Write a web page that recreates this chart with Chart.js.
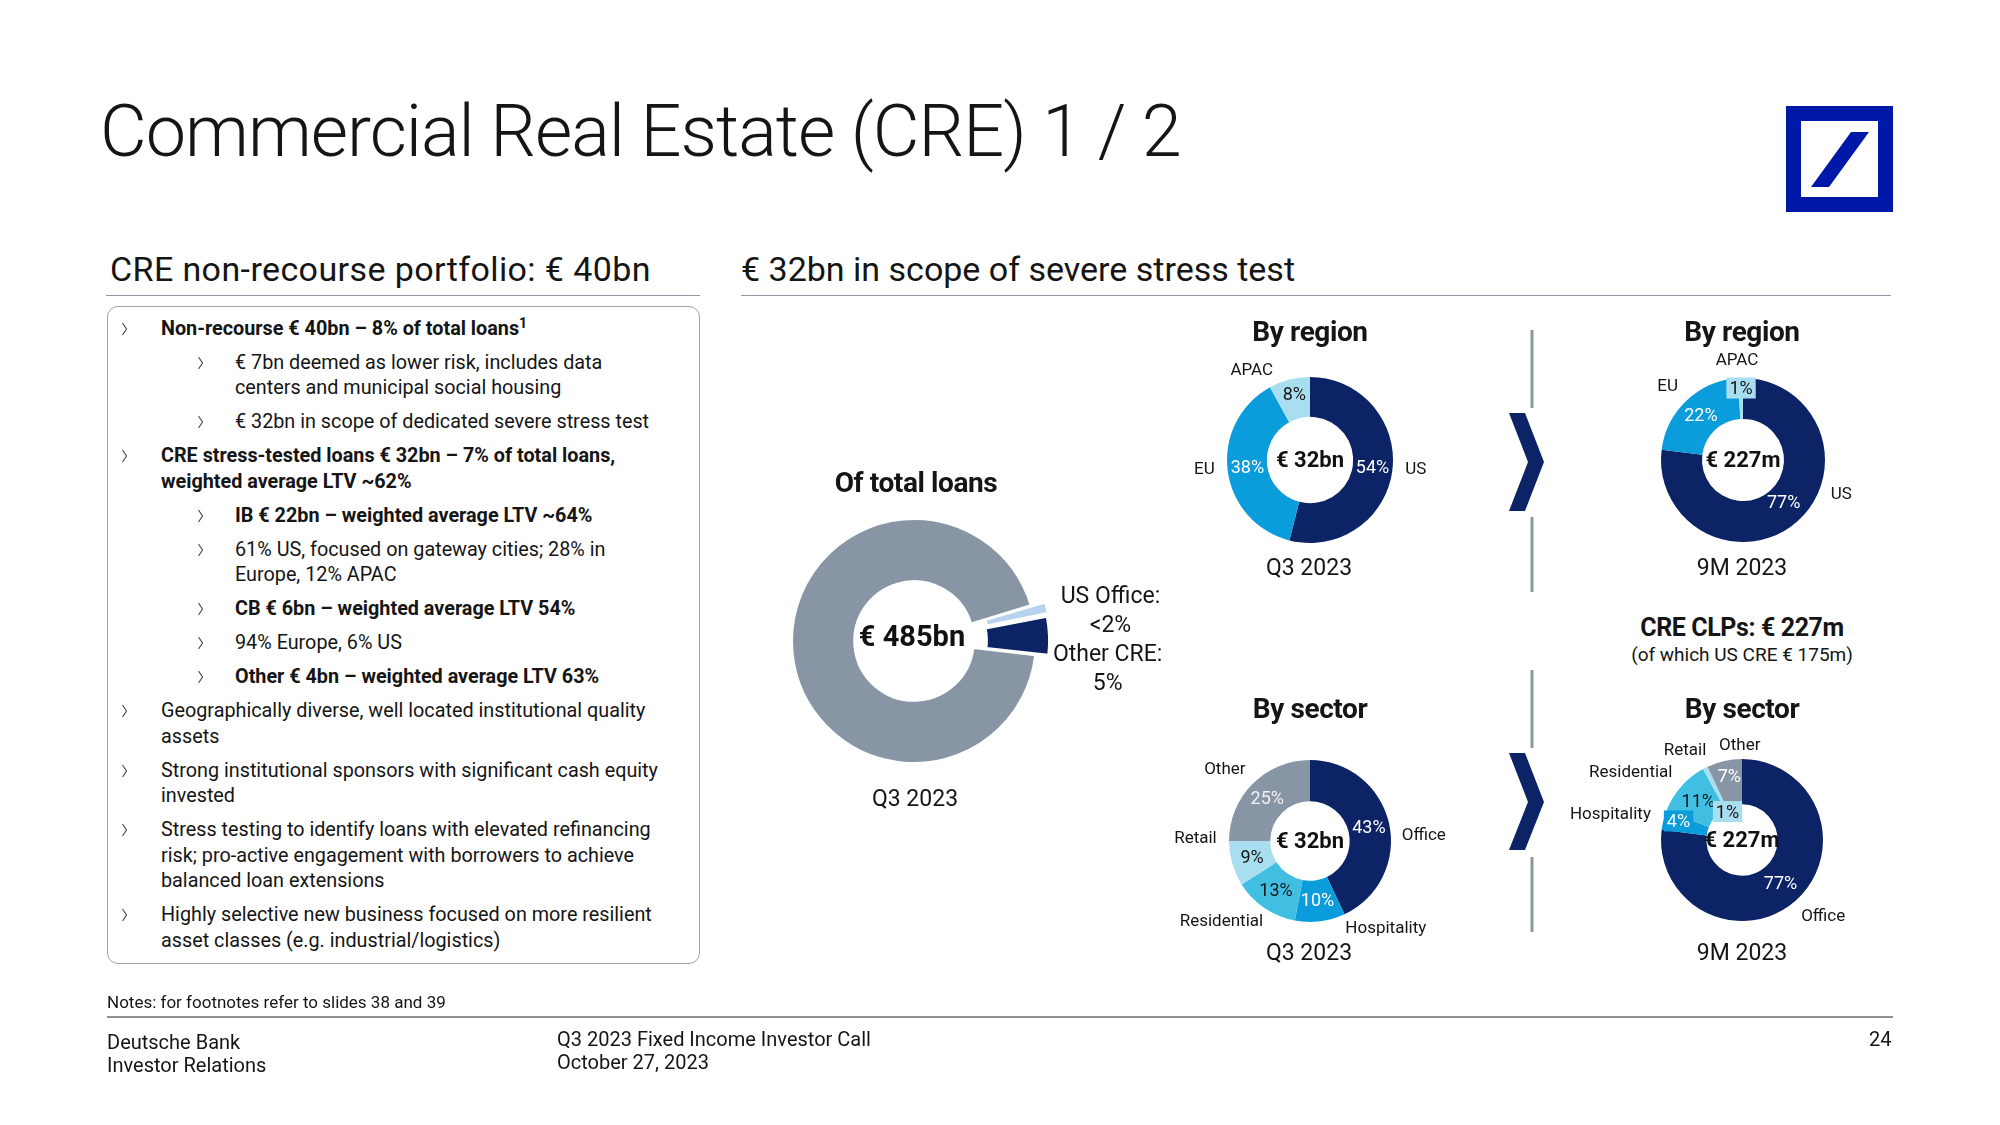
<!DOCTYPE html>
<html>
<head>
<meta charset="utf-8">
<script src="https://cdn.jsdelivr.net/npm/chart.js@4.4.0/dist/chart.umd.min.js"></script>
<style>
  body { margin: 0; width: 2000px; height: 1125px; background: #fff; position: relative; overflow: hidden;
         font-family: Roboto, "Liberation Sans", sans-serif; color: #151515; }
  .abs { position: absolute; white-space: nowrap; }
  .c { transform: translateX(-50%); text-align: center; }
  #title { left: 100px; top: 95px; font-size: 72px; line-height: 74px; font-weight: 300; letter-spacing: -1px; }
  .head { font-size: 34px; line-height: 40px; top: 249px; }
  .rule { position: absolute; height: 0; border-top: 1.5px solid #8e99a5; }
  #box { position: absolute; left: 107px; top: 306px; width: 593px; height: 658px; box-sizing: border-box;
         border: 1.5px solid #9aa3ad; border-radius: 11px; }
  .b1, .b2 { position: relative; font-size: 19.8px; line-height: 25.5px; margin-top: 8.5px; white-space: nowrap; }
  .b1 { padding-left: 53px; }
  .b2 { padding-left: 127px; }
  .b1::before, .b2::before { content: ''; position: absolute; top: 6px; width: 7px; height: 14px;
     background: url("data:image/svg+xml,%3Csvg xmlns='http://www.w3.org/2000/svg' width='7' height='14'%3E%3Cpolyline points='1.5,1 5.5,7 1.5,13' fill='none' stroke='%23444' stroke-width='1.1'/%3E%3C/svg%3E"); }
  .b1::before { left: 13px; }
  .b2::before { left: 89px; }
  .bold { font-weight: 700; letter-spacing: 0px; }
  sup { font-size: 14px; line-height: 0; vertical-align: 7px; }
  .ct { font-weight: 700; font-size: 28px; line-height: 34px; letter-spacing: -0.4px; }
  .yr { font-size: 23px; line-height: 28px; }
  canvas { position: absolute; }
  .foot { font-size: 20px; line-height: 23px; }
</style>
</head>
<body>
<script>
// ---- data ----
const totalCats = ['US Office', 'Other CRE', 'Other loans'];
const totalShares = [1.6, 5, 93.4];
const totalShareText = ['<2%', '5%', ''];
const totalLoans = '€ 485bn';

const regionCats = ['US', 'EU', 'APAC'];
const regionQ3 = [54, 38, 8];
const regionCLP9M = [77, 22, 1];

const sectorCats = ['Office', 'Hospitality', 'Residential', 'Retail', 'Other'];
const sectorQ3 = [43, 10, 13, 9, 25];
const sectorCLP9M = [77, 4, 11, 1, 7];

const stressTotal = '€ 32bn';
const clpTotal = '€ 227m';
</script>

<div id="title" class="abs">Commercial Real Estate (CRE) 1 / 2</div>
<svg class="abs" style="left:1786px;top:106px" width="108" height="107">
  <rect x="7.5" y="7.5" width="92" height="91" fill="none" stroke="#0018a8" stroke-width="15"/>
  <polygon points="25,81 43,81 83,26 65,26" fill="#0018a8"/>
</svg>

<div class="abs head" style="left:110px;letter-spacing:0.4px">CRE non-recourse portfolio: € 40bn</div>
<div class="rule" style="left:106px;top:295px;width:594px"></div>
<div class="abs head" style="left:741px">€ 32bn in scope of severe stress test</div>
<div class="rule" style="left:741px;top:295px;width:1150px"></div>

<div id="box">
  <div class="b1 bold">Non-recourse € 40bn – 8% of total loans<sup>1</sup></div>
  <div class="b2">€ 7bn deemed as lower risk, includes data<br>centers and municipal social housing</div>
  <div class="b2">€ 32bn in scope of dedicated severe stress test</div>
  <div class="b1 bold">CRE stress-tested loans € 32bn – 7% of total loans,<br>weighted average LTV ~62%</div>
  <div class="b2 bold">IB € 22bn – weighted average LTV ~64%</div>
  <div class="b2">61% US, focused on gateway cities; 28% in<br>Europe, 12% APAC</div>
  <div class="b2 bold">CB € 6bn – weighted average LTV 54%</div>
  <div class="b2">94% Europe, 6% US</div>
  <div class="b2 bold">Other € 4bn – weighted average LTV 63%</div>
  <div class="b1">Geographically diverse, well located institutional quality<br>assets</div>
  <div class="b1">Strong institutional sponsors with significant cash equity<br>invested</div>
  <div class="b1">Stress testing to identify loans with elevated refinancing<br>risk; pro-active engagement with borrowers to achieve<br>balanced loan extensions</div>
  <div class="b1">Highly selective new business focused on more resilient<br>asset classes (e.g. industrial/logistics)</div>
</div>

<canvas id="cTotal" width="600" height="340" style="left:614px;top:471px"></canvas>
<canvas id="cRegQ3" width="300" height="260" style="left:1160px;top:330px"></canvas>
<canvas id="cRegCLP" width="300" height="260" style="left:1593px;top:330px"></canvas>
<canvas id="cSecQ3" width="320" height="260" style="left:1150px;top:711px"></canvas>
<canvas id="cSecCLP" width="400" height="260" style="left:1542px;top:710px"></canvas>

<div class="abs c ct" style="left:916px;top:466px">Of total loans</div>
<div class="abs c yr" style="left:915px;top:785px">Q3 2023</div>

<div class="abs c ct" style="left:1310px;top:315px">By region</div>
<div class="abs c yr" style="left:1309px;top:554px">Q3 2023</div>
<div class="abs c ct" style="left:1742px;top:315px">By region</div>
<div class="abs c yr" style="left:1742px;top:554px">9M 2023</div>

<div class="abs c" style="left:1742px;top:613px;font-weight:700;font-size:25px;line-height:30px;letter-spacing:-0.4px">CRE CLPs: € 227m</div>
<div class="abs c" style="left:1742px;top:643px;font-size:19px;line-height:23px">(of which US CRE € 175m)</div>

<div class="abs c ct" style="left:1310px;top:692px">By sector</div>
<div class="abs c yr" style="left:1309px;top:939px">Q3 2023</div>
<div class="abs c ct" style="left:1742px;top:692px">By sector</div>
<div class="abs c yr" style="left:1742px;top:939px">9M 2023</div>

<svg class="abs" style="left:0;top:0" width="2000" height="1125" pointer-events="none">
  <g stroke="#8c97a4" stroke-width="3">
    <line x1="1532" y1="330" x2="1532" y2="408"/><line x1="1532" y1="517" x2="1532" y2="592"/>
    <line x1="1532" y1="670" x2="1532" y2="748"/><line x1="1532" y1="857" x2="1532" y2="932"/>
  </g>
  <polygon points="1509,413 1525,413 1544,462 1525,511 1509,511 1528,462" fill="#0c2366"/>
  <polygon points="1509,753 1525,753 1544,802 1525,850 1509,850 1528,802" fill="#0c2366"/>
  <line x1="107" y1="1017" x2="1893" y2="1017" stroke="#222" stroke-width="1.2"/>
</svg>

<div class="abs" style="left:107px;top:992px;font-size:17px;line-height:20px">Notes: for footnotes refer to slides 38 and 39</div>
<div class="abs foot" style="left:107px;top:1031px">Deutsche Bank<br>Investor Relations</div>
<div class="abs foot" style="left:557px;top:1028px">Q3 2023 Fixed Income Investor Call<br>October 27, 2023</div>
<div class="abs foot" style="left:1869px;top:1028px">24</div>

<script>
const NAVY = '#0c2366', BRIGHT = '#0b9ddb', CYAN = '#40bfe2', LIGHT = '#a8def0', GREY = '#8795a5';
const FONT = 'Roboto, "Liberation Sans", sans-serif';

// draws percentages inside slices, category names outside and the total in the hole
const sliceText = {
  id: 'sliceText',
  afterDatasetsDraw(chart, args, o) {
    const ctx = chart.ctx;
    const meta = chart.getDatasetMeta(0);
    const bg = chart.data.datasets[0].backgroundColor;
    let cx0 = 0, cy0 = 0;
    ctx.save();
    meta.data.forEach((arc, i) => {
      const p = arc.getProps(['x', 'y', 'startAngle', 'endAngle', 'innerRadius', 'outerRadius'], true);
      const mid = (p.startAngle + p.endAngle) / 2;
      const dx = Math.cos(mid), dy = Math.sin(mid);
      const off = (arc.options.offset || 0) / 4; // arc element shifts by offset / 4
      const cx = p.x + dx * off, cy = p.y + dy * off;
      cx0 = p.x; cy0 = p.y;
      if (o.inner && o.inner[i]) {
        const r = (p.innerRadius + p.outerRadius) / 2;
        const n = (o.innerNudge || [])[i] || [0, 0];
        const x = cx + dx * r + n[0], y = cy + dy * r + n[1];
        ctx.font = o.innerFont;
        ctx.textAlign = 'center';
        ctx.textBaseline = 'middle';
        if (o.innerBox && o.innerBox[i]) {
          const w = ctx.measureText(o.inner[i]).width + 6;
          ctx.fillStyle = bg[i];
          ctx.fillRect(x - w / 2, y - 11, w, 21);
        }
        ctx.fillStyle = o.innerColor[i];
        ctx.fillText(o.inner[i], x, y + 1);
      }
      if (o.outer && o.outer[i]) {
        const R = p.outerRadius + o.gap;
        const n = (o.outerNudge || [])[i] || [0, 0];
        const x = cx + dx * R + n[0], y = cy + dy * R + n[1];
        const lines = o.outer[i].split('\n');
        ctx.font = o.outerFont;
        ctx.fillStyle = '#151515';
        ctx.textBaseline = 'middle';
        ctx.textAlign = o.outerAlign || (dx > 0.2 ? 'left' : dx < -0.2 ? 'right' : 'center');
        const lh = o.outerLine || 20;
        lines.forEach((t, k) => ctx.fillText(t, x, y + (k - (lines.length - 1) / 2) * lh + 1));
      }
    });
    if (o.center) {
      const n = o.centerNudge || [0, 0];
      ctx.font = o.centerFont;
      ctx.fillStyle = '#111';
      ctx.textAlign = 'center';
      ctx.textBaseline = 'middle';
      ctx.fillText(o.center, cx0 + n[0], cy0 + n[1] + 1);
    }
    ctx.restore();
  }
};

function donut(id, cats, values, colors, radius, cutout, extra, labels) {
  return new Chart(document.getElementById(id), {
    type: 'doughnut',
    data: {
      labels: cats,
      datasets: [Object.assign({
        data: values,
        backgroundColor: colors,
        borderWidth: 0
      }, extra.dataset || {})]
    },
    options: {
      responsive: false,
      animation: false,
      radius: radius,
      cutout: cutout,
      rotation: extra.rotation || 0,
      layout: { padding: 0 },
      plugins: { legend: { display: false }, tooltip: { enabled: false }, sliceText: labels }
    },
    plugins: [sliceText]
  });
}

const pct = arr => arr.map(v => v + '%');

donut('cTotal', totalCats, totalShares, ['#b8d3ef', NAVY, GREY], 122, '49%',
  { rotation: 73, dataset: { offset: [31, 31, 0], borderWidth: 2, borderColor: '#fff' } },
  {
    outer: totalCats.map((c, i) => totalShareText[i] ? c + ':\n' + totalShareText[i] : ''),
    outerFont: '23px ' + FONT, outerLine: 29, outerAlign: 'center', gap: 13,
    outerNudge: [[58, 5], [51, 33]],
    center: totalLoans, centerFont: 'bold 29px ' + FONT, centerNudge: [-2, -3]
  });

donut('cRegQ3', regionCats, regionQ3, [NAVY, BRIGHT, LIGHT], 83, '52%', {},
  {
    inner: pct(regionQ3), innerFont: '18px ' + FONT, innerColor: ['#fff', '#fff', '#151515'],
    innerNudge: [[0, 0], [0, 0], [0, -4]],
    outer: regionCats, outerFont: '17px ' + FONT, gap: 13,
    outerNudge: [[0, -3], [0, -3], [-13, 3]],
    center: stressTotal, centerFont: 'bold 22px ' + FONT
  });

donut('cRegCLP', regionCats, regionCLP9M, [NAVY, BRIGHT, LIGHT], 82, '50%', {},
  {
    inner: pct(regionCLP9M), innerFont: '18px ' + FONT, innerColor: ['#fff', '#fff', '#151515'],
    innerNudge: [[0, -4], [0, 0], [0, -10]], innerBox: [false, false, true],
    outer: regionCats, outerFont: '17px ' + FONT, gap: 13,
    outerNudge: [[25, -38], [0, -5], [-3, -5]],
    center: clpTotal, centerFont: 'bold 22px ' + FONT
  });

donut('cSecQ3', sectorCats, sectorQ3, [NAVY, BRIGHT, CYAN, LIGHT, GREY], 81, '49%', {},
  {
    inner: pct(sectorQ3), innerFont: '18px ' + FONT,
    innerColor: ['#fff', '#fff', '#151515', '#151515', '#f2f2f2'],
    outer: sectorCats, outerFont: '17px ' + FONT, gap: 13,
    outerNudge: [[0, 14], [64, -7], [6, 2], [-3, -29], [2, -6]],
    center: stressTotal, centerFont: 'bold 22px ' + FONT
  });

donut('cSecCLP', sectorCats, sectorCLP9M, [NAVY, BRIGHT, CYAN, LIGHT, GREY], 81, '44%', {},
  {
    inner: pct(sectorCLP9M), innerFont: '18px ' + FONT,
    innerColor: ['#fff', '#fff', '#151515', '#151515', '#fff'],
    innerNudge: [[0, 0], [-7, -4], [0, 0], [12, 24], [0, -7]],
    innerBox: [false, true, false, true, false],
    outer: sectorCats, outerFont: '17px ' + FONT, gap: 13,
    outerNudge: [[-3, 5], [0, -3], [1, -6], [7, -6], [39, -4]],
    center: clpTotal, centerFont: 'bold 22px ' + FONT
  });
</script>
</body>
</html>
